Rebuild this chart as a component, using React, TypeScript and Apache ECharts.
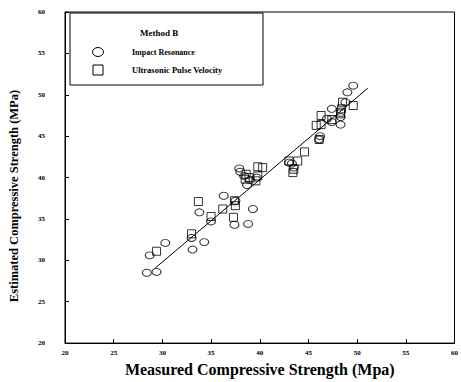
import React, { useEffect, useRef } from "react";
import * as echarts from "echarts";

const xTicks = [20, 25, 30, 35, 40, 45, 50, 55, 60];
const yTicks = [20, 25, 30, 35, 40, 45, 50, 55, 60];

const impactResonance: [number, number][] = [
  [28.4, 28.5], [29.4, 28.6], [28.7, 30.6], [30.3, 32.1], [33.0, 32.7],
  [33.1, 31.3], [34.3, 32.2], [33.8, 35.8], [35.0, 34.7], [36.3, 37.8],
  [37.5, 37.2], [37.4, 34.3], [38.8, 34.4], [39.3, 36.2], [37.9, 41.1],
  [38.0, 40.7], [38.4, 40.2], [38.7, 39.1], [39.0, 39.7], [39.7, 40.0],
  [43.3, 41.7], [43.5, 41.2], [46.1, 44.6], [46.2, 45.0], [47.4, 46.7],
  [46.9, 47.1], [48.3, 46.4], [48.3, 47.3], [48.8, 49.1], [49.0, 50.3],
  [49.6, 51.1], [47.4, 48.3], [43.0, 41.8],
];

const ultrasonicPulseVelocity: [number, number][] = [
  [29.4, 31.1], [33.0, 33.2], [33.7, 37.1], [35.0, 35.3], [36.2, 36.2],
  [37.4, 37.2], [37.5, 36.6], [37.3, 35.2], [38.6, 40.4], [38.9, 40.0],
  [38.5, 39.8], [39.8, 41.3], [40.3, 41.2], [39.8, 40.2], [39.6, 39.6],
  [43.0, 42.0], [43.5, 41.0], [43.9, 42.0], [44.6, 43.1], [43.4, 40.6],
  [45.8, 46.3], [46.3, 47.5], [46.1, 44.6], [46.3, 46.4], [47.4, 47.0],
  [48.3, 47.9], [48.4, 48.3], [48.5, 49.1], [49.6, 48.7], [48.3, 47.7],
];

const fitLine: [number, number][] = [
  [29.2, 29.0],
  [51.1, 50.8],
];

const SERIF = "'Liberation Serif', 'Times New Roman', serif";

export default function App() {
  const ref = useRef<HTMLDivElement>(null);

  useEffect(() => {
    if (!ref.current) return;
    const chart = echarts.init(ref.current, null, { renderer: "svg" });
    chart.setOption({
      animation: false,
      backgroundColor: "#ffffff",
      grid: {
        left: 65,
        right: 5,
        top: 12,
        bottom: 35,
        show: true,
        borderColor: "#000",
        borderWidth: 1,
      },
      xAxis: {
        type: "value",
        min: xTicks[0],
        max: xTicks[xTicks.length - 1],
        interval: 5,
        name: "Measured Compressive Strength (Mpa)",
        nameLocation: "middle",
        nameGap: 16,
        nameTextStyle: {
          fontFamily: SERIF,
          fontWeight: "bold",
          fontSize: 16,
          color: "#000",
        },
        axisLine: { show: true, lineStyle: { color: "#000", width: 1 } },
        axisTick: { show: true, inside: true, length: 4, lineStyle: { color: "#000" } },
        axisLabel: {
          margin: 6,
          fontFamily: SERIF,
          fontWeight: "bold",
          fontSize: 7,
          color: "#000",
        },
        splitLine: { show: false },
      },
      yAxis: {
        type: "value",
        min: yTicks[0],
        max: yTicks[yTicks.length - 1],
        interval: 5,
        axisLine: { show: true, lineStyle: { color: "#000", width: 1 } },
        axisTick: { show: true, inside: true, length: 4, lineStyle: { color: "#000" } },
        axisLabel: {
          margin: 20,
          fontFamily: SERIF,
          fontWeight: "bold",
          fontSize: 7,
          color: "#000",
        },
        splitLine: { show: false },
      },
      series: [
        {
          name: "Impact Resonance",
          type: "scatter",
          symbol: "circle",
          symbolSize: [9, 7],
          data: impactResonance,
          itemStyle: { color: "rgba(0,0,0,0)", borderColor: "#000", borderWidth: 1 },
          z: 3,
        },
        {
          name: "Ultrasonic Pulse Velocity",
          type: "scatter",
          symbol: "rect",
          symbolSize: [8, 8],
          data: ultrasonicPulseVelocity,
          itemStyle: { color: "rgba(0,0,0,0)", borderColor: "#000", borderWidth: 1 },
          z: 3,
        },
        {
          name: "Fit",
          type: "line",
          data: fitLine,
          symbol: "none",
          lineStyle: { color: "#000", width: 1 },
          z: 2,
        },
      ],
      graphic: [
        {
          type: "text",
          x: 14,
          y: 196,
          rotation: Math.PI / 2,
          style: {
            text: "Estimated Compressive Strength (MPa)",
            fontFamily: SERIF,
            fontWeight: "bold",
            fontSize: 12.5,
            fill: "#000",
            align: "center",
            verticalAlign: "middle",
          },
        },
        {
          type: "rect",
          shape: { x: 70, y: 13, width: 193, height: 72 },
          style: { fill: "#fff", stroke: "#000", lineWidth: 1 },
          z: 10,
        },
        {
          type: "text",
          x: 140,
          y: 33,
          style: {
            text: "Method B",
            fontFamily: SERIF,
            fontWeight: "bold",
            fontSize: 9,
            fill: "#000",
            verticalAlign: "middle",
          },
          z: 11,
        },
        {
          type: "ellipse",
          shape: { cx: 98, cy: 52, rx: 5.5, ry: 4.5 },
          style: { fill: "none", stroke: "#000", lineWidth: 1 },
          z: 11,
        },
        {
          type: "text",
          x: 132,
          y: 52,
          style: {
            text: "Impact Resonance",
            fontFamily: SERIF,
            fontWeight: "bold",
            fontSize: 8,
            fill: "#000",
            verticalAlign: "middle",
          },
          z: 11,
        },
        {
          type: "rect",
          shape: { x: 93, y: 65, width: 10, height: 10 },
          style: { fill: "none", stroke: "#000", lineWidth: 1 },
          z: 11,
        },
        {
          type: "text",
          x: 132,
          y: 70,
          style: {
            text: "Ultrasonic Pulse Velocity",
            fontFamily: SERIF,
            fontWeight: "bold",
            fontSize: 8.5,
            fill: "#000",
            verticalAlign: "middle",
          },
          z: 11,
        },
      ],
    });
    return () => chart.dispose();
  }, []);

  return (
    <div
      ref={ref}
      style={{ position: "fixed", left: 0, top: 0, width: 461, height: 382, background: "#fff" }}
    />
  );
}
